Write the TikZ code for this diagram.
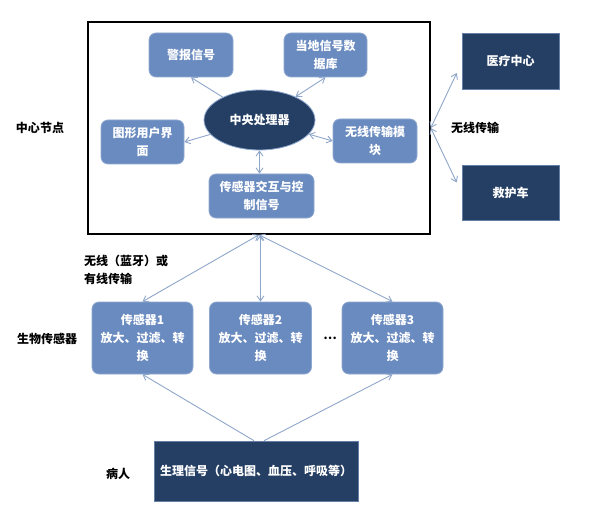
\documentclass[tikz,border=0pt]{standalone}
\usepackage{fontspec}
\setmainfont{Noto Sans CJK SC}
\usetikzlibrary{arrows.meta,shapes.geometric,calc}
\definecolor{lightbox}{HTML}{6A8BC0}
\definecolor{lightedge}{HTML}{8FA8D0}
\definecolor{darkbox}{HTML}{253F64}
\definecolor{arrowc}{HTML}{8EA6CA}
\tikzset{
  lbox/.style={draw=lightedge, line width=0.8pt, fill=lightbox, rounded corners=7pt,
    text=white, font=\bfseries\fontsize{12}{18}\selectfont, align=center, inner sep=2pt},
  dbox/.style={draw=lightedge!60!darkbox, line width=0.6pt, fill=darkbox,
    text=white, font=\bfseries\fontsize{12}{18}\selectfont, align=center, inner sep=2pt},
  lbl/.style={text=black, font=\bfseries\fontsize{12}{18}\selectfont, align=left, inner sep=0pt},
  conn/.style={draw=arrowc, line width=0.9pt},
  tip/.tip={Straight Barb[length=5pt,width=7pt,line width=0.9pt]},
}
\begin{document}
\begin{tikzpicture}[x=1pt,y=-1pt]
\useasboundingbox (0,0) rectangle (604,529);
% central frame
\node[draw=black, line width=1.6pt, minimum width=342pt, minimum height=212pt, inner sep=0pt] (frame) at (259,128) {};
% inner boxes
\node[lbox, minimum width=84pt, minimum height=44pt] (alarm) at (191,55) {警报信号};
\node[lbox, minimum width=83pt, minimum height=44pt] (db) at (325.5,55) {当地信号数\\据库};
\node[ellipse, draw=lightedge, line width=0.8pt, fill=darkbox, text=white,
      font=\bfseries\fontsize{12}{18}\selectfont, minimum width=111pt, minimum height=60pt, inner sep=0pt] (cpu) at (259.5,120) {中央处理器};
\node[lbox, minimum width=83pt, minimum height=44pt] (gui) at (142.5,142) {图形用户界\\面};
\node[lbox, minimum width=84pt, minimum height=44pt] (wmod) at (375,141) {无线传输模\\块};
\node[lbox, minimum width=105pt, minimum height=44pt] (sint) at (261.5,196) {传感器交互与控\\制信号};
% right boxes
\node[dbox, minimum width=97pt, minimum height=56pt] (med) at (510.5,61) {医疗中心};
\node[dbox, minimum width=97pt, minimum height=55pt] (amb) at (510.5,192.5) {救护车};
% sensors
\node[lbox, minimum width=101pt, minimum height=72pt] (s1) at (142.5,338) {传感器1\\放大、过滤、转\\换};
\node[lbox, minimum width=102pt, minimum height=72pt] (s2) at (260.5,338) {传感器2\\放大、过滤、转\\换};
\node[lbox, minimum width=101pt, minimum height=72pt] (s3) at (392.5,338) {传感器3\\放大、过滤、转\\换};
% patient
\node[dbox, minimum width=204pt, minimum height=60pt] (pat) at (256,471) {生理信号（心电图、血压、呼吸等）};
% labels
\node[lbl] (lcenter) at (40,128) {中心节点};
\node[lbl] (lwless) at (475,128) {无线传输};
\node[lbl, anchor=west] (lbt) at (84,270) {无线（蓝牙）或\\有线传输};
\node[lbl] (lbio) at (47,339) {生物传感器};
\node[lbl] (ldots) at (330,338) {…};
\node[lbl] (lpat) at (118,474) {病人};
% connectors inside frame
\draw[conn, -tip] (cpu) -- (alarm.south);
\draw[conn, tip-tip] (cpu) -- (db.south);
\draw[conn, -tip] (cpu) -- (gui.east);
\draw[conn, tip-tip] (cpu) -- (wmod.west);
\draw[conn, tip-tip] (cpu.south) -- (cpu.south |- sint.north);
% frame to right boxes
\draw[conn, tip-tip] (frame.east) -- ($(med.west)+(-5,12)$);
\draw[conn, tip-tip] (frame.east) -- ($(amb.west)+(-5,-10)$);
% frame to sensors
\draw[conn, tip-tip] (frame.south) -- (s1.north);
\draw[conn, tip-tip] (s2.north |- frame.south) -- (s2.north);
\draw[conn, tip-tip] (frame.south) -- (s3.north);
% patient to sensors
\draw[conn, -tip] ($(pat.north)+(-2,0)$) -- (s1.south);
\draw[conn, -tip] ($(pat.north)+(8,0)$) -- (s3.south);
\end{tikzpicture}
\end{document}
